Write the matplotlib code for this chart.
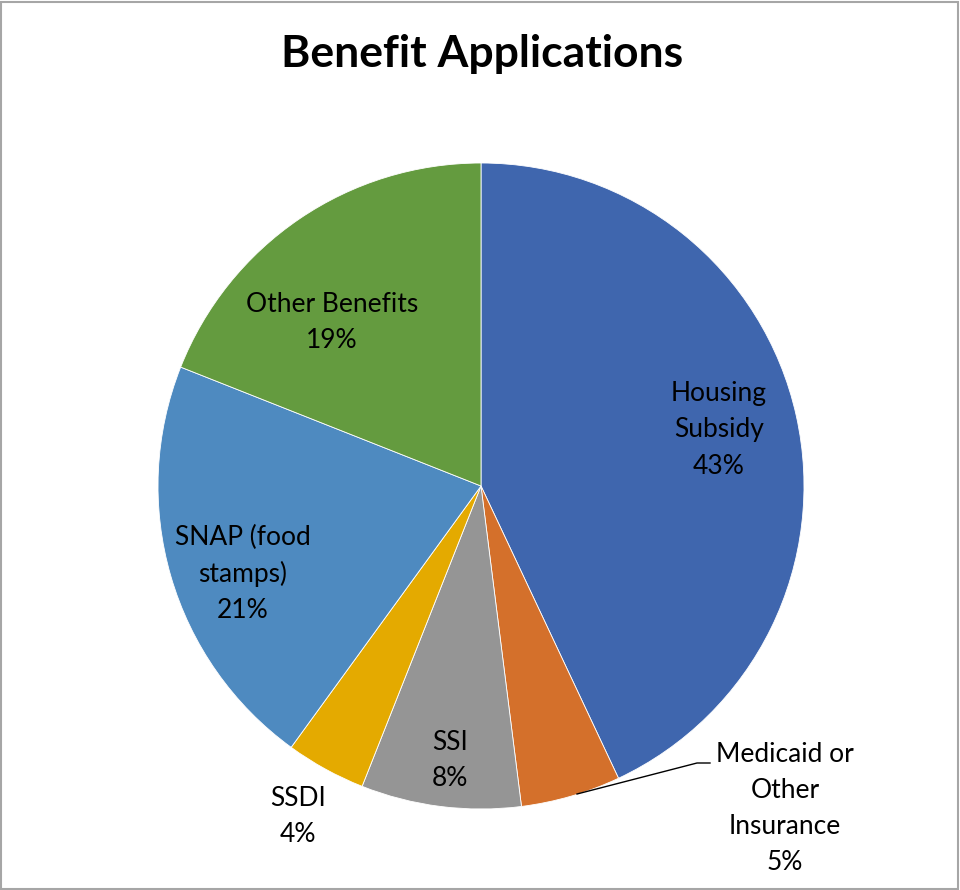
import matplotlib.pyplot as plt
from matplotlib.patches import Rectangle

plt.rcParams['font.family'] = ['Lato', 'DejaVu Sans']

categories = ['Housing\nSubsidy', 'Medicaid or\nOther\nInsurance', 'SSI', 'SSDI',
              'SNAP (food\nstamps)', 'Other Benefits']
shares = [43, 5, 8, 4, 21, 19]
colors = ['#3F66AE', '#D4702B', '#959595', '#E4AA00', '#4E8AC0', '#649B3F']

# label anchor points (pixel coords, y measured from the top)
label_pos = [(719, 430), (785, 809), (450, 761), (298, 817), (243, 574), (332, 323)]

fig = plt.figure(figsize=(9.6, 8.9), dpi=100)
ax = fig.add_axes([0, 0, 1, 1])
H = 890

wedges, _ = ax.pie(shares, colors=colors, startangle=90, counterclock=False,
                   center=(481, H - 486), radius=323,
                   wedgeprops=dict(edgecolor='white', linewidth=0.6))

for name, val, (x, y) in zip(categories, shares, label_pos):
    ax.text(x, H - y, f'{name}\n{val}%', ha='center', va='center',
            fontsize=19, linespacing=1.55, color='black')

# leader line for the small Medicaid slice
ax.plot([577, 697, 710], [H - 794, H - 763, H - 763], color='black', lw=1)

ax.text(482, H - 54, 'Benefit Applications', ha='center', va='center',
        fontsize=32, fontweight='bold')

ax.set_xlim(0, 960)
ax.set_ylim(0, H)
ax.set_aspect('equal')
ax.axis('off')

fig.patches.append(Rectangle((0.001, 0.001), 0.997, 0.997, transform=fig.transFigure,
                             fill=False, edgecolor='#A6A6A6', lw=1.5))

plt.savefig('out.png', dpi=100)
